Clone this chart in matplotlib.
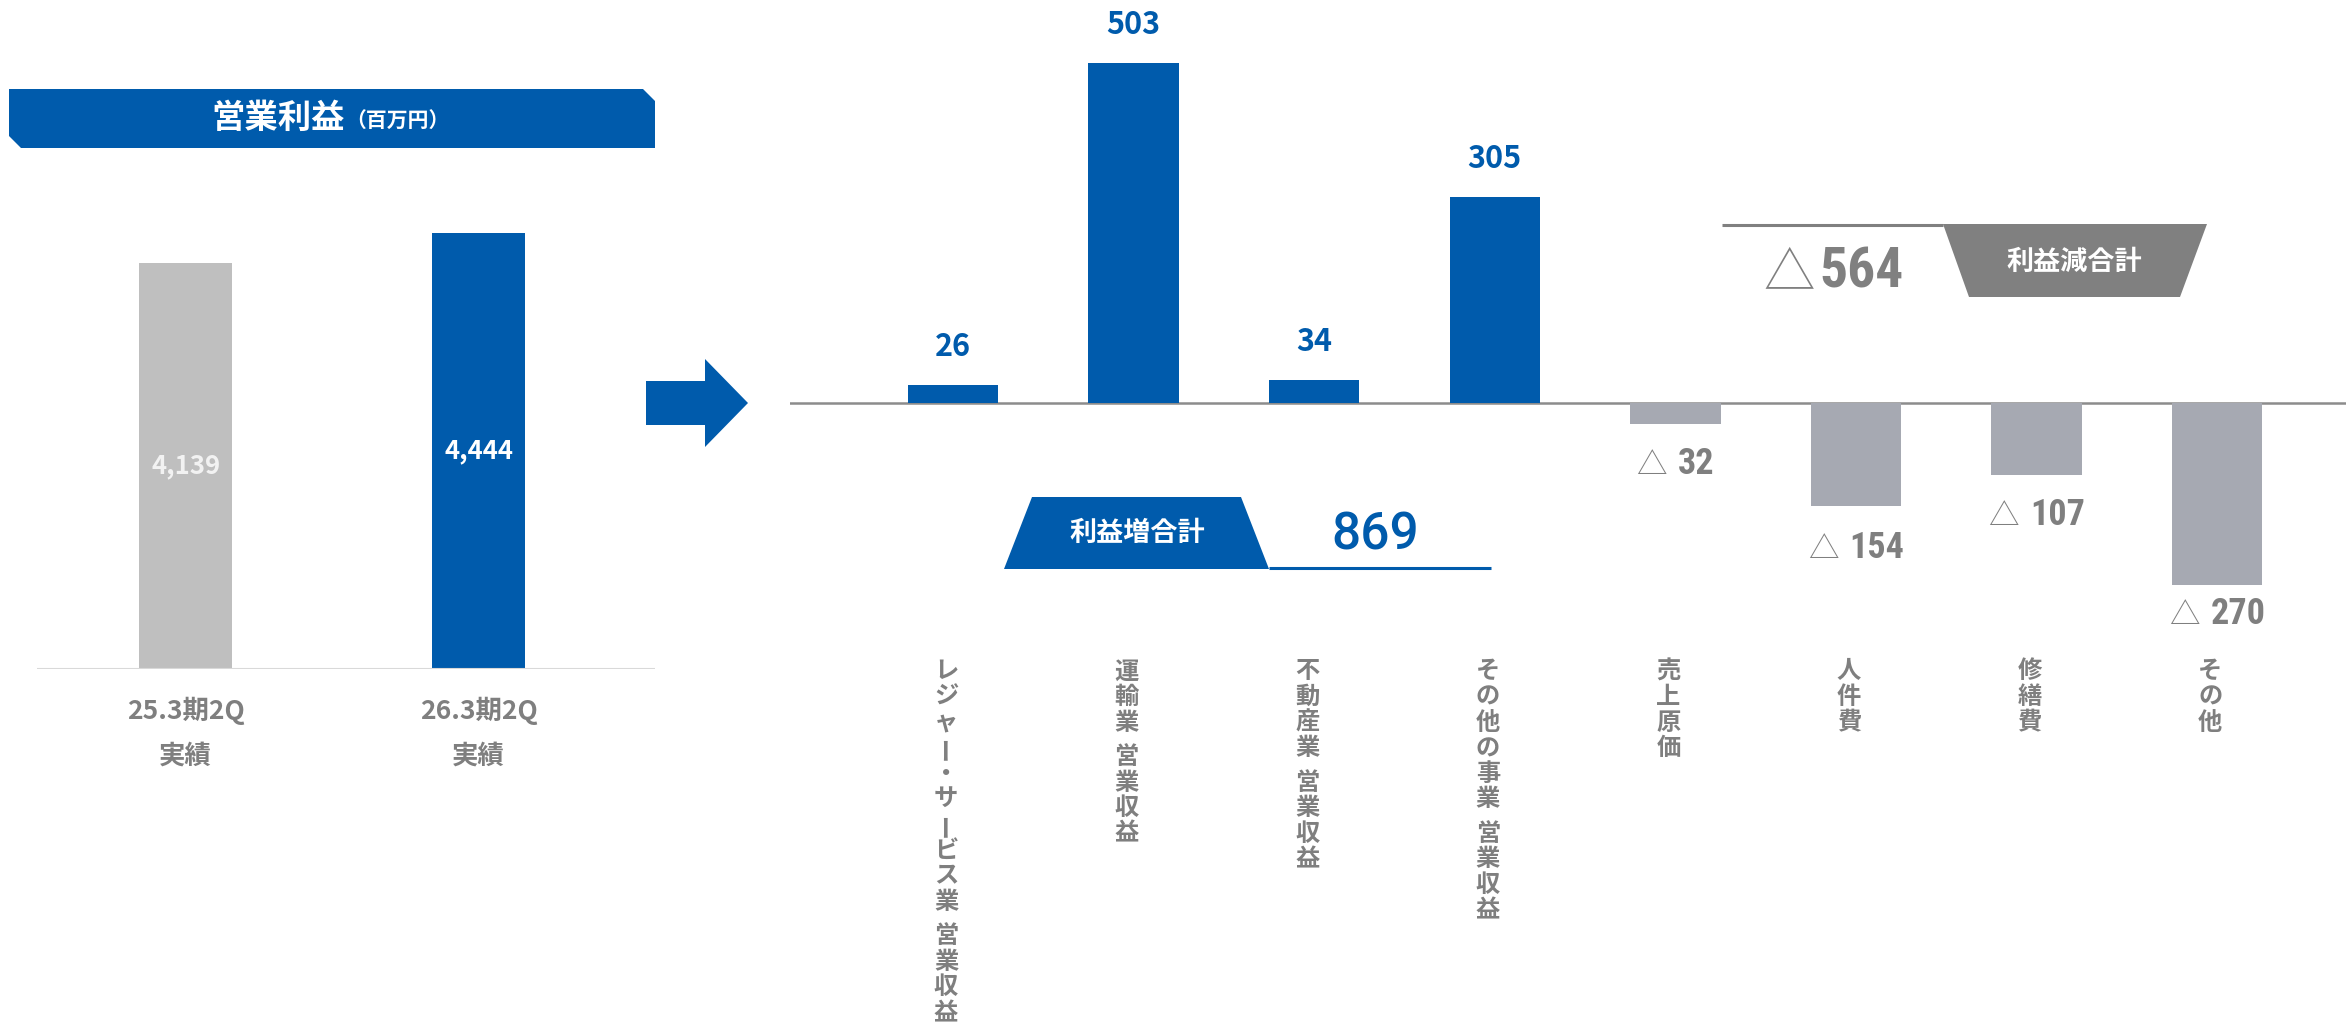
import matplotlib
matplotlib.use("Agg")
import matplotlib.pyplot as plt
from matplotlib.patches import Polygon

plt.rcParams['font.family'] = ['Noto Sans CJK JP', 'DejaVu Sans']

# 営業利益（百万円）
periods = ['25.3期2Q', '26.3期2Q']
period_note = '実績'
op_income = [4139, 4444]

# 増減要因
factors = ['レジャー・サービス業 営業収益', '運輸業 営業収益', '不動産業 営業収益',
           'その他の事業 営業収益', '売上原価', '人件費', '修繕費', 'その他']
changes = [26, 503, 34, 305, -32, -154, -107, -270]
increase_total = 869
decrease_total = -564

BLUE = '#005BAC'
LEFT_GRAY = '#BFBFBF'
NEG_GRAY = '#A6A9B2'
TEXT_GRAY = '#7F7F7F'
BOX_GRAY = '#808080'
NARROW = ['Roboto Condensed', 'Liberation Sans Narrow', 'Roboto', 'DejaVu Sans']

W, H = 2346, 1033
fig = plt.figure(figsize=(W / 100, H / 100), dpi=100)

# decoration layer in pixel coordinates (origin top-left)
deco = fig.add_axes([0, 0, 1, 1])
deco.set_xlim(0, W)
deco.set_ylim(H, 0)
deco.axis('off')

# --- left: operating income bars ---
left_scale = 436 / 4444          # px per 百万円
ax_l = fig.add_axes([37 / W, (H - 669) / H, 618 / W, 5000 * left_scale / H])
ax_l.set_xlim(-0.507, 1.602)
ax_l.set_ylim(0, 5000)
ax_l.axis('off')
ax_l.bar([0, 1], op_income, width=0.317, color=[LEFT_GRAY, BLUE])
ax_l.axhline(0, color='#D9D9D9', lw=1.5)
for i, v in enumerate(op_income):
    ax_l.text(i, v / 2, f'{v:,}', ha='center', va='center', fontsize=18.5,
              fontweight='bold', color='#F2F2F2' if i == 0 else 'white')
    ax_l.annotate(periods[i], (i, 0), xytext=(0, -42), textcoords='offset pixels',
                  ha='center', va='center', fontsize=19, fontweight='bold',
                  color=TEXT_GRAY)
    ax_l.annotate(period_note, (i, 0), xytext=(0, -87), textcoords='offset pixels',
                  ha='center', va='center', fontsize=19, fontweight='bold',
                  color=TEXT_GRAY)

# title banner with clipped corners
deco.add_patch(Polygon([(9, 89), (643, 89), (655, 101), (655, 148), (21, 148), (9, 136)],
                       closed=True, color=BLUE, lw=0))
deco.text(345, 118, '営業利益', ha='right', va='center', fontsize=24,
          fontweight='bold', color='white')
deco.text(345, 121, '（百万円）', ha='left', va='center', fontsize=15,
          fontweight='bold', color='white')

# arrow between panels
deco.add_patch(Polygon([(646, 381), (705, 381), (705, 359), (748, 403),
                        (705, 447), (705, 425), (646, 425)],
                       closed=True, color=BLUE, lw=0))

# --- right: change factors ---
k = 0.675                         # px per 百万円
base_px = 402.5
ax_r = fig.add_axes([790 / W, 0, 1556 / W, 1])
ax_r.set_xlim(-0.9025, -0.9025 + 1556 / 180.6)
ax_r.set_ylim(-(H - base_px) / k, base_px / k)
ax_r.axis('off')
xs = list(range(len(changes)))
ax_r.bar(xs, changes, width=0.5,
         color=[BLUE if v > 0 else NEG_GRAY for v in changes])
ax_r.axhline(0, color='#8C8C8C', lw=1.8, zorder=0)

neg_gap = [50, 52, 50, 39]
neg_pairs = []
ni = 0
for x, v in zip(xs, changes):
    if v > 0:
        ax_r.annotate(str(v), (x, v), xytext=(0, 29), textcoords='offset pixels',
                      ha='center', va='baseline', fontsize=22, fontweight='bold',
                      color=BLUE)
    else:
        gap = neg_gap[ni]
        ni += 1
        tri = ax_r.annotate('△', (x, v), xytext=(0, -gap), textcoords='offset pixels',
                            ha='right', va='baseline', fontsize=22,
                            fontweight='light', color=TEXT_GRAY)
        num = ax_r.annotate(str(abs(v)), (x, v), xytext=(0, -gap),
                            textcoords='offset pixels', ha='left', va='baseline',
                            fontsize=26, fontweight='bold', color=TEXT_GRAY,
                            family=NARROW)
        neg_pairs.append((tri, num, gap))

# vertical category labels, one glyph per row
pitch = 25.6
for x, name in zip(xs, factors):
    y = 256
    for ch in name:
        if ch == ' ':
            y += pitch * 0.35
            continue
        ax_r.annotate(ch, (x, 0), xytext=(-7, -(y + pitch / 2)),
                      textcoords='offset pixels', ha='center', va='center',
                      rotation=90 if ch == 'ー' else 0, fontsize=17.5,
                      fontweight='bold', color=TEXT_GRAY)
        y += pitch

# 利益増合計 box
deco.add_patch(Polygon([(1004, 569), (1032, 497), (1241, 497), (1269, 569)],
                       closed=True, color=BLUE, lw=0))
deco.plot([1269, 1491], [568, 568], color=BLUE, lw=2.2, solid_capstyle='butt')
deco.text(1137, 533, '利益増合計', ha='center', va='center', fontsize=19.5,
          fontweight='bold', color='white')
deco.text(1375, 550, f'{increase_total}', ha='center', va='baseline', fontsize=37,
          fontweight='medium', color=BLUE, family=['Roboto', 'DejaVu Sans'])

# 利益減合計 box
deco.add_patch(Polygon([(1943, 224), (2207, 224), (2180, 297), (1969, 297)],
                       closed=True, color=BOX_GRAY, lw=0))
deco.plot([1722, 1943], [225, 225], color=BOX_GRAY, lw=2.2, solid_capstyle='butt')
deco.text(2074, 262, '利益減合計', ha='center', va='center', fontsize=19.5,
          fontweight='bold', color='white')
deco.text(1815, 288, '△', ha='right', va='baseline', fontsize=37,
          fontweight='light', color=BOX_GRAY)
deco.text(1819, 288, f'{abs(decrease_total)}', ha='left', va='baseline', fontsize=40,
          fontweight='bold', color=BOX_GRAY, family=NARROW)

# center "△ n" labels under their bars
fig.canvas.draw()
renderer = fig.canvas.get_renderer()
space = 11
for tri, num, gap in neg_pairs:
    wt = tri.get_window_extent(renderer).width
    wn = num.get_window_extent(renderer).width
    total = wt + space + wn
    tri.xyann = (-total / 2 + wt, -gap)
    num.xyann = (-total / 2 + wt + space, -gap)

fig.savefig('out.png', dpi=100)
